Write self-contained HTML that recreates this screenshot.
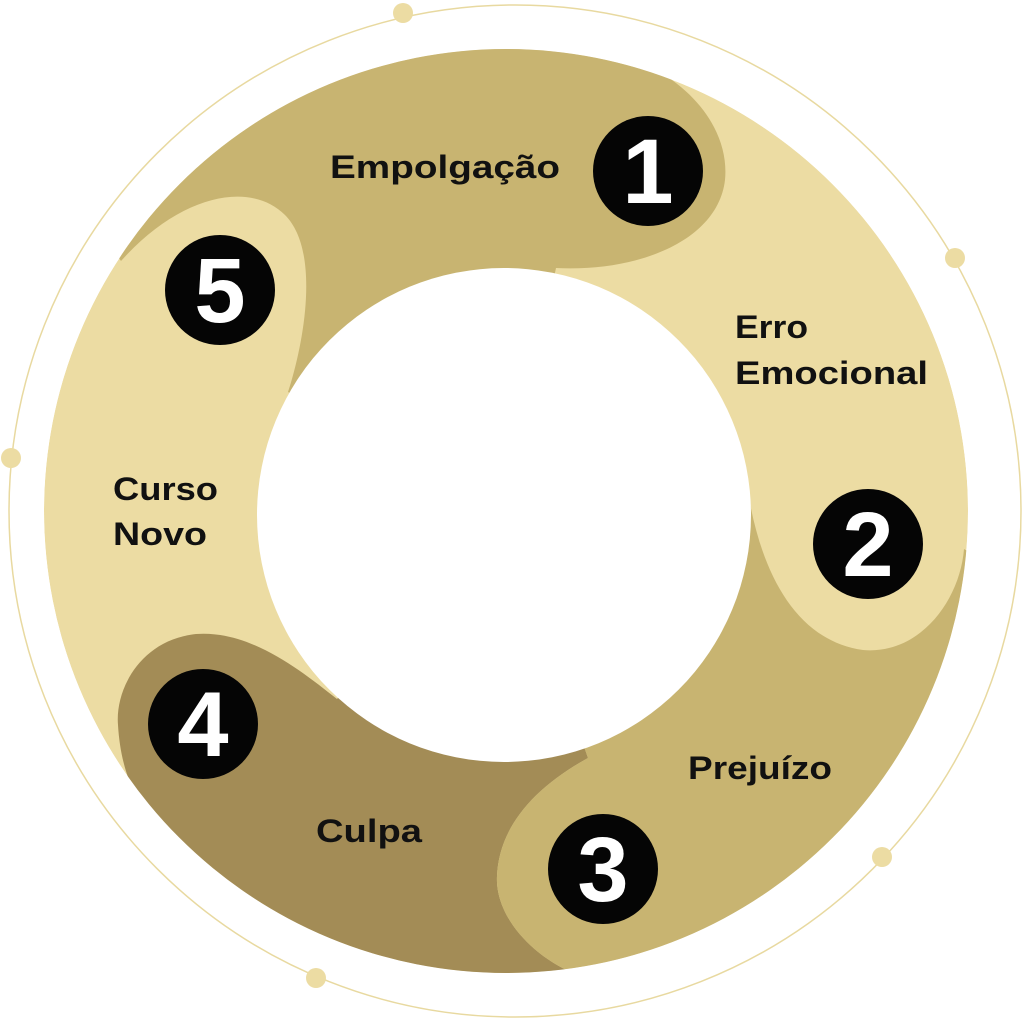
<!DOCTYPE html>
<html><head><meta charset="utf-8"><style>html,body{margin:0;padding:0;background:#fff;width:1024px;height:1019px;overflow:hidden}svg{display:block}</style></head>
<body>
<svg width="1024" height="1019" viewBox="0 0 1024 1019" xmlns="http://www.w3.org/2000/svg">
<defs>
<clipPath id="ring"><circle cx="506" cy="511" r="462"/></clipPath>
</defs>
<circle cx="515" cy="511" r="506" fill="none" stroke="#e8d9a0" stroke-width="1.5"/>
<g fill="#ecdca3">
<circle cx="403" cy="13" r="10"/><circle cx="955" cy="258" r="10"/><circle cx="11" cy="458" r="10"/><circle cx="882" cy="857" r="10"/><circle cx="316" cy="978" r="10"/>
</g>
<g clip-path="url(#ring)">
<circle cx="506" cy="511" r="462" fill="#ecdca3"/>
<path fill="#c8b471" d="M288,392 C305,340 320,250 285,215 C250,180 180,195 121,261 L40,150 L300,-20 L614,52 C690,75 730,130 725,180 C718,240 640,272 556,268 L504,515 Z"/>
<path fill="#a38c56" d="M337,699 C300,670 250,630 196,634 C140,640 115,690 118,725 C120,760 130,790 144,807 L50,900 L400,1080 L575,974 C530,955 495,915 497,876 C499,830 530,790 588,758 L504,515 Z"/>
<path fill="#c8b471" d="M745,470 C755,560 790,640 863,650 C920,655 960,600 964,549 L1050,600 L900,1080 L575,974 C530,955 495,915 497,876 C499,830 530,790 588,758 L504,515 Z"/>
</g>
<circle cx="504" cy="515" r="247" fill="#fff"/>
<g fill="#050505">
<circle cx="648" cy="171" r="55"/><circle cx="868" cy="544" r="55"/><circle cx="603" cy="869" r="55"/><circle cx="203" cy="724" r="55"/><circle cx="220" cy="290" r="55"/>
</g>
<g fill="#fff" font-family="Liberation Sans, sans-serif" font-weight="bold" font-size="92" text-anchor="middle">
<text x="648" y="203">1</text><text x="868" y="576">2</text><text x="603" y="901">3</text><text x="203" y="756">4</text><text x="220" y="322">5</text>
</g>
<g fill="#111" font-family="Liberation Sans, sans-serif" font-weight="bold" font-size="32">
<text x="330" y="178" textLength="230" lengthAdjust="spacingAndGlyphs">Empolgação</text>
<text x="735" y="338" textLength="73" lengthAdjust="spacingAndGlyphs">Erro</text>
<text x="735" y="384" textLength="193" lengthAdjust="spacingAndGlyphs">Emocional</text>
<text x="113" y="500" textLength="105" lengthAdjust="spacingAndGlyphs">Curso</text>
<text x="113" y="545" textLength="94" lengthAdjust="spacingAndGlyphs">Novo</text>
<text x="688" y="779" textLength="144" lengthAdjust="spacingAndGlyphs">Prejuízo</text>
<text x="316" y="842" textLength="106" lengthAdjust="spacingAndGlyphs">Culpa</text>
</g>
</svg>
</body></html>
